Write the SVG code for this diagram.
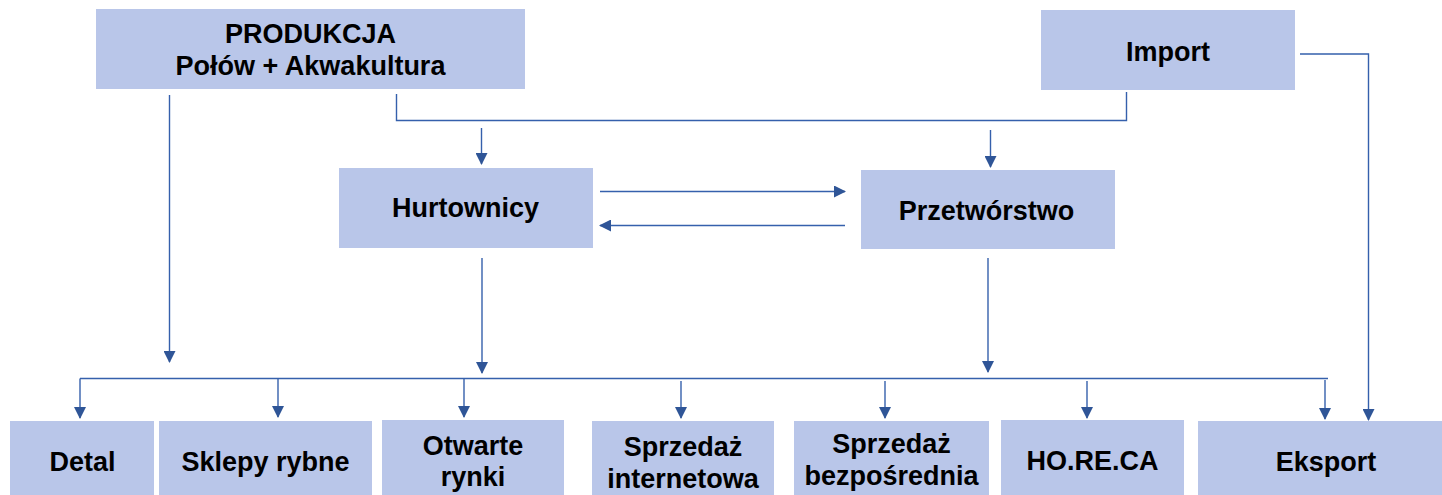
<svg xmlns="http://www.w3.org/2000/svg" width="1442" height="495" viewBox="0 0 1442 495">
<style>
.box{fill:#B9C6E9;}
.t{font-family:"Liberation Sans",Arial,sans-serif;font-weight:bold;font-size:27px;fill:#000;text-anchor:middle;}
.c{fill:none;stroke:#3560AC;stroke-width:1.4;}
.a{marker-end:url(#ah);}
</style>
<defs>
<marker id="ah" viewBox="0 0 12 12" markerWidth="12" markerHeight="12" refX="11" refY="6" orient="auto" markerUnits="userSpaceOnUse">
<path d="M0,0 L12,6 L0,12 Z" fill="#2F5597"/>
</marker>
</defs>
<rect width="1442" height="495" fill="#FFFFFF"/>
<g id="produkcja"><rect class="box" x="96" y="9" width="429" height="80"/><text class="t" x="310.5" y="43">PRODUKCJA</text><text class="t" x="310.5" y="75">Połów + Akwakultura</text></g>
<g id="import"><rect class="box" x="1041" y="10" width="254" height="80"/><text class="t" x="1168" y="61">Import</text></g>
<g id="hurtownicy"><rect class="box" x="339" y="168" width="254" height="80"/><text class="t" x="465.5" y="217">Hurtownicy</text></g>
<g id="przetworstwo"><rect class="box" x="861" y="170" width="254" height="79"/><text class="t" x="986.5" y="220">Przetwórstwo</text></g>
<g id="detal"><rect class="box" x="10" y="421" width="144" height="74"/><text class="t" x="82.5" y="471">Detal</text></g>
<g id="sklepy"><rect class="box" x="159" y="421" width="213" height="74"/><text class="t" x="265.5" y="471">Sklepy rybne</text></g>
<g id="otwarte"><rect class="box" x="382" y="420" width="182" height="75"/><text class="t" x="473" y="455">Otwarte</text><text class="t" x="473" y="486">rynki</text></g>
<g id="internet"><rect class="box" x="592" y="421" width="182" height="74"/><text class="t" x="683" y="456">Sprzedaż</text><text class="t" x="683" y="488">internetowa</text></g>
<g id="bezposrednia"><rect class="box" x="794" y="421" width="195" height="74"/><text class="t" x="891.5" y="453">Sprzedaż</text><text class="t" x="891.5" y="485">bezpośrednia</text></g>
<g id="horeca"><rect class="box" x="1001" y="420" width="183" height="75"/><text class="t" x="1092.5" y="470">HO.RE.CA</text></g>
<g id="eksport"><rect class="box" x="1198" y="421" width="244" height="74"/><text class="t" x="1326" y="471">Eksport</text></g>
<g id="connectors">
<path class="c a" d="M169.5,95 V362"/>
<path class="c" d="M396.5,94 V120.5 H1126.5 V92"/>
<path class="c a" d="M481.5,128 V164"/>
<path class="c a" d="M990.5,130 V167"/>
<path class="c a" d="M1300,54 H1368.5 V420"/>
<path class="c a" d="M600,191.5 H845"/>
<path class="c a" d="M845,225.5 H600"/>
<path class="c a" d="M482,258 V373"/>
<path class="c a" d="M988,258 V372"/>
<path class="c" d="M80,378.5 H1328"/>
<path class="c a" d="M80,378.5 V418"/>
<path class="c a" d="M278,378.5 V417"/>
<path class="c a" d="M464,378.5 V417"/>
<path class="c a" d="M681,381 V418"/>
<path class="c a" d="M885,381 V418"/>
<path class="c a" d="M1087,381 V418"/>
<path class="c a" d="M1325,380 V419"/>
</g>
</svg>
